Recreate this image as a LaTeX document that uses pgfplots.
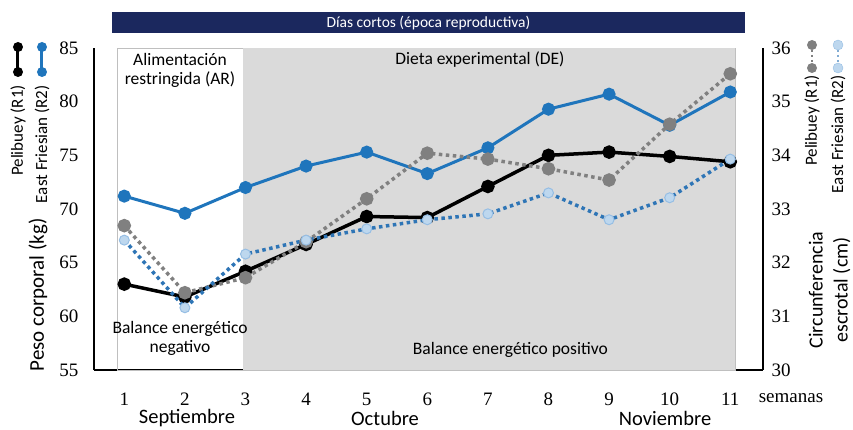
\documentclass[border=0pt]{standalone}
\usepackage{fontspec}
\setmainfont{Liberation Serif}
\newfontfamily\sansf{Carlito}
\usepackage{pgfplots}
\pgfplotsset{compat=1.18}
\definecolor{navy}{RGB}{27,40,94}
\definecolor{bggray}{RGB}{218,218,218}
\definecolor{efblue}{RGB}{31,117,188}
\definecolor{efdot}{RGB}{46,117,182}
\definecolor{eflight}{RGB}{189,215,238}
\definecolor{eflightb}{RGB}{150,190,228}
\definecolor{pgray}{RGB}{128,128,128}
\begin{document}
\begin{tikzpicture}[x=1pt,y=1pt]
\useasboundingbox (-94,-59) rectangle (759,370);
\begin{axis}[
  at={(0,0)}, anchor=south west,
  scale only axis, width=669pt, height=322pt,
  xmin=0.5, xmax=11.54, ymin=55, ymax=85,
  axis x line*=bottom, axis y line*=left,
  axis line style={line width=1.6pt, -},
  xtick={1,...,11}, ytick={55,60,...,85},
  major tick length=0pt,
  tick label style={font=\fontsize{19}{21}\selectfont},
  /pgf/number format/assume math mode=true,
  xticklabel style={yshift=-23pt, inner sep=0pt},
  yticklabel style={xshift=-12pt},
  clip=false,
]
% background regions
\draw[black!25, line width=0.6pt] (axis cs:0.885,55) rectangle (axis cs:11.08,85);
\fill[bggray] (axis cs:2.96,55) rectangle (axis cs:11.08,85);
% banner
\fill[navy] (axis cs:0.80,86.39) rectangle (axis cs:11.25,88.33);
\node[text=white, font=\sansf\fontsize{15.5}{17}\selectfont] at (axis cs:6.02,87.36) {Días cortos (época reproductiva)};
% annotations
\node[align=center, font=\sansf\fontsize{17.5}{19}\selectfont] at (axis cs:1.92,82.87) {Alimentación\\restringida (AR)};
\node[font=\sansf\fontsize{17.5}{19}\selectfont] at (axis cs:6.87,83.9) {Dieta experimental (DE)};
\node[align=center, font=\sansf\fontsize{17.5}{19}\selectfont] at (axis cs:1.92,57.96) {Balance energético\\negativo};
\node[font=\sansf\fontsize{17.5}{19}\selectfont] at (axis cs:7.37,56.85) {Balance energético positivo};
% data: body weight
\addplot[black, line width=3.5pt, mark=*, mark size=5pt, mark options={solid, fill=black}] coordinates {
 (1,63.0) (2,61.8) (3,64.2) (4,66.7) (5,69.3) (6,69.2) (7,72.1) (8,75.0) (9,75.3) (10,74.9) (11,74.4)};
\addplot[efblue, line width=3pt, mark=*, mark size=5pt, mark options={solid, fill=efblue}] coordinates {
 (1,71.2) (2,69.6) (3,72.0) (4,74.0) (5,75.3) (6,73.3) (7,75.7) (8,79.3) (9,80.7) (10,77.8) (11,80.9)};
\end{axis}
\begin{axis}[
  at={(0,0)}, anchor=south west,
  scale only axis, width=669pt, height=322pt,
  xmin=0.5, xmax=11.54, ymin=30, ymax=36,
  axis x line=none, axis y line*=right,
  axis line style={line width=1.6pt, -},
  ytick={30,...,36},
  major tick length=0pt,
  tick label style={font=\fontsize{19}{21}\selectfont},
  /pgf/number format/assume math mode=true,
  yticklabel style={xshift=5pt},
  clip=false,
]
\addplot[pgray, line width=3.5pt, dash pattern=on 3.5pt off 3.5pt, mark=*, mark size=5pt, mark options={solid, fill=pgray, draw=pgray}] coordinates {
 (1,32.69) (2,31.44) (3,31.72) (4,32.39) (5,33.19) (6,34.04) (7,33.93) (8,33.75) (9,33.54) (10,34.58) (11,35.52)};
\addplot[efdot, line width=3.5pt, dash pattern=on 3.5pt off 3.5pt, mark=*, mark size=5pt, mark options={solid, fill=eflight, draw=eflightb, line width=1pt}] coordinates {
 (1,32.42) (2,31.16) (3,32.16) (4,32.42) (5,32.63) (6,32.80) (7,32.91) (8,33.30) (9,32.80) (10,33.21) (11,33.93)};
\end{axis}
% axis titles
\node[rotate=90, font=\sansf\fontsize{21}{23}\selectfont] at (-56,75) {Peso corporal (kg)};
\node[rotate=90, align=center, font=\sansf\fontsize{20}{25}\selectfont] at (735.5,80) {Circunferencia\\escrotal (cm)};
\node[font=\fontsize{19}{21}\selectfont] at (697,-28) {semanas};
\node[inner sep=0pt, font=\sansf\fontsize{20.5}{22}\selectfont] at (93,-48) {Septiembre};
\node[inner sep=0pt, font=\sansf\fontsize{20.5}{22}\selectfont] at (291,-48) {Octubre};
\node[inner sep=0pt, font=\sansf\fontsize{20.5}{22}\selectfont] at (571,-48) {Noviembre};
% left legend
\draw[black, line width=3pt] (-76,323) -- (-76,298);
\fill[black] (-76,323) circle (5pt) (-76,298) circle (5pt);
\draw[efblue, line width=3pt] (-52,323) -- (-52,298);
\fill[efblue] (-52,323) circle (5pt) (-52,298) circle (5pt);
\node[rotate=90, anchor=east, inner sep=0pt, font=\sansf\fontsize{17}{19}\selectfont] at (-76,285) {Pelibuey (R1)};
\node[rotate=90, anchor=east, inner sep=0pt, font=\sansf\fontsize{17}{19}\selectfont] at (-52,285) {East Friesian (R2)};
% right legend
\draw[pgray, line width=2.5pt, dash pattern=on 2.5pt off 2.5pt] (718,325) -- (718,302);
\fill[pgray] (718,325) circle (5pt) (718,302) circle (5pt);
\draw[efdot!60, line width=2.5pt, dash pattern=on 2.5pt off 2.5pt] (744,325) -- (744,302);
\filldraw[fill=eflight, draw=eflightb] (744,325) circle (5pt) (744,302) circle (5pt);
\node[rotate=90, anchor=east, inner sep=0pt, font=\sansf\fontsize{17}{19}\selectfont] at (718,295) {Pelibuey (R1)};
\node[rotate=90, anchor=east, inner sep=0pt, font=\sansf\fontsize{17}{19}\selectfont] at (744,295) {East Friesian (R2)};
\end{tikzpicture}
\end{document}
